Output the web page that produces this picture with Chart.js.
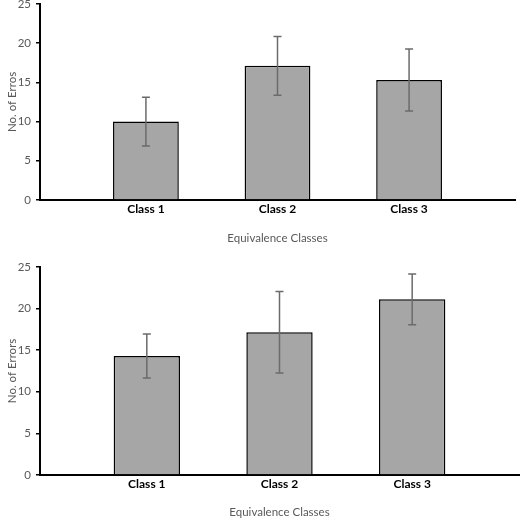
<!DOCTYPE html>
<html>
<head>
<meta charset="utf-8">
<script src="https://cdn.jsdelivr.net/npm/chart.js@4/dist/chart.umd.min.js"></script>
<style>
  html, body { margin: 0; padding: 0; background: #fff; }
  #wrap { position: relative; width: 520px; height: 519px; overflow: hidden; }
  #chartTop { position: absolute; left: 0; top: -8px; }
  #chartBottom { position: absolute; left: 0; top: 255px; }
</style>
</head>
<body>
<div id="wrap">
  <canvas id="chartTop" width="520" height="258"></canvas>
  <canvas id="chartBottom" width="520" height="264"></canvas>
</div>
<script>
// categories and values
const classes = ['Class 1', 'Class 2', 'Class 3'];
const classPos = [1, 2, 3];
const yTicks = [0, 5, 10, 15, 20, 25];

const topMeans = [10.0, 17.1, 15.3];
const topErr = [3.1, 3.75, 3.95];

const bottomMeans = [14.3, 17.15, 21.1];
const bottomErr = [2.65, 4.9, 3.05];

const FONT = 'Lato, "Open Sans", sans-serif';
const GREY_TEXT = '#595959';

// error bars drawn through the chart's own scales
const errorBars = {
    id: 'errorBars',
    afterDatasetsDraw(chart, args, opts) {
        const ctx = chart.ctx;
        const xs = chart.scales.x;
        const ys = chart.scales.y;
        const ds = chart.data.datasets[0];
        ctx.save();
        ctx.strokeStyle = '#6b6b6b';
        ctx.lineWidth = 1.5;
        ds.data.forEach((pt, i) => {
            const e = opts.errors[i];
            const x = xs.getPixelForValue(pt.x);
            const yHi = ys.getPixelForValue(pt.y + e);
            const yLo = ys.getPixelForValue(pt.y - e);
            ctx.beginPath();
            ctx.moveTo(x, yHi); ctx.lineTo(x, yLo);
            ctx.moveTo(x - 4, yHi); ctx.lineTo(x + 4, yHi);
            ctx.moveTo(x - 4, yLo); ctx.lineTo(x + 4, yLo);
            ctx.stroke();
        });
        ctx.restore();
    }
};

function makeChart(id, means, errs, yTitle, cfg) {
    const ctx = document.getElementById(id).getContext('2d');
    return new Chart(ctx, {
        type: 'bar',
        data: {
            datasets: [{
                data: means.map((v, i) => ({ x: classPos[i], y: v })),
                backgroundColor: '#a6a6a6',
                borderColor: '#000',
                borderWidth: 1.5,
                categoryPercentage: 0.5,
                barPercentage: 1
            }]
        },
        options: {
            responsive: false,
            animation: false,
            devicePixelRatio: 1,
            layout: { padding: cfg.padding },
            plugins: {
                legend: { display: false },
                tooltip: { enabled: false },
                errorBars: { errors: errs }
            },
            scales: {
                x: {
                    type: 'linear',
                    offset: false,
                    min: 0.195,
                    max: 3.805,
                    afterBuildTicks: (s) => { s.ticks = classPos.map(v => ({ value: v })); },
                    afterFit: (s) => { s.height = cfg.xHeight; },
                    ticks: {
                        callback: (v) => classes[v - 1],
                        color: '#000',
                        font: { family: FONT, size: 12, weight: 'bold' },
                        padding: 2,
                        maxRotation: 0
                    },
                    grid: { display: false, drawTicks: false, offset: false },
                    border: { color: '#000', width: 2 },
                    title: {
                        display: true,
                        text: 'Equivalence Classes',
                        color: GREY_TEXT,
                        font: { family: FONT, size: 11.5 },
                        padding: { top: 0, bottom: cfg.xTitlePad }
                    }
                },
                y: {
                    min: 0,
                    max: 25,
                    afterBuildTicks: (s) => { s.ticks = yTicks.map(v => ({ value: v })); },
                    afterFit: (s) => { s.width = 40; },
                    ticks: {
                        color: GREY_TEXT,
                        font: { family: FONT, size: 11.5 },
                        padding: 5
                    },
                    grid: {
                        drawOnChartArea: false,
                        drawTicks: true,
                        tickLength: 4,
                        color: '#000',
                        lineWidth: 1.5
                    },
                    border: { color: '#000', width: 2 },
                    title: {
                        display: true,
                        text: yTitle,
                        color: GREY_TEXT,
                        font: { family: FONT, size: 11.5 },
                        padding: { top: 5, bottom: 0 }
                    }
                }
            }
        },
        plugins: [errorBars]
    });
}

makeChart('chartTop', topMeans, topErr, 'No. of Erros',
    { padding: { top: 3, right: 5, bottom: 0, left: 0 }, xHeight: 50, xTitlePad: 5 });
makeChart('chartBottom', bottomMeans, bottomErr, 'No. of Errors',
    { padding: { top: 10, right: 1, bottom: 0, left: 0 }, xHeight: 44, xTitlePad: 0 });
</script>
</body>
</html>
